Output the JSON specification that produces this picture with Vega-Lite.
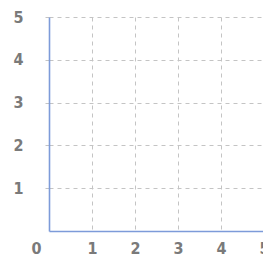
{
  "$schema": "https://vega.github.io/schema/vega-lite/v6.json",
  "autosize": {"type": "none"},
  "padding": {"left": 49, "top": 17, "right": 0, "bottom": 26},
  "width": 215,
  "height": 214,
  "background": "white",
  "data": {"values": [{"x": 0, "y": 0}]},
  "mark": {"type": "point", "opacity": 0},
  "encoding": {
    "x": {
      "field": "x", "type": "quantitative",
      "scale": {"domain": [0, 5], "nice": false, "zero": true},
      "axis": {
        "title": null, "values": [0, 1, 2, 3, 4, 5],
        "domainColor": "#7d9bd9", "domainWidth": 1.6,
        "ticks": false, "labelPadding": 9,
        "labelOffset": {"condition": {"test": "datum.value == 0", "value": -13}, "value": 0},
        "labelFont": "DejaVu Sans Condensed", "labelFontWeight": "bold",
        "labelFontSize": 16, "labelColor": "#7a7a7a", "labelBaseline": "top",
        "labelFlush": false, "labelOverlap": false,
        "grid": true, "gridColor": "#c4c4c4", "gridDash": [4, 4], "gridWidth": 1
      }
    },
    "y": {
      "field": "y", "type": "quantitative",
      "scale": {"domain": [0, 5], "nice": false},
      "axis": {
        "title": null, "values": [1, 2, 3, 4, 5],
        "domainColor": "#7d9bd9", "domainWidth": 1.6,
        "ticks": true, "tickSize": 6, "tickColor": "#c4c4c4", "tickDash": [4, 4],
        "labelPadding": 25,
        "labelFont": "DejaVu Sans Condensed", "labelFontWeight": "bold",
        "labelFontSize": 16, "labelColor": "#7a7a7a", "labelAlign": "center",
        "labelFlush": false, "labelOverlap": false,
        "grid": true, "gridColor": "#c4c4c4", "gridDash": [4, 4], "gridWidth": 1
      }
    }
  },
  "config": {"view": {"stroke": null}}
}
